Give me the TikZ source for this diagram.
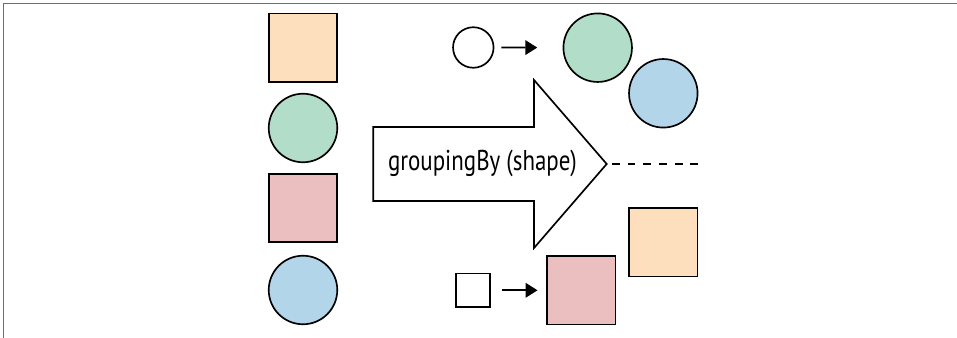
\documentclass[tikz,border=0pt]{standalone}
\usepackage{fontspec}
\newfontfamily\condfont[FakeStretch=0.8]{PT Sans}
\usetikzlibrary{arrows.meta}

\definecolor{peach}{RGB}{253,223,190}
\definecolor{mint}{RGB}{178,221,200}
\definecolor{rose}{RGB}{235,190,192}
\definecolor{sky}{RGB}{179,213,234}
\definecolor{framegray}{RGB}{110,110,110}

\tikzset{every picture/.style={line width=1pt}}

\begin{document}
\begin{tikzpicture}[x=0.75pt,y=0.75pt,yscale=-1,
  sq/.style={draw,line width=1.25pt,minimum size=51.4pt,inner sep=0pt},
  rnd/.style={circle,draw,line width=1.25pt,minimum size=51.4pt,inner sep=0pt},
  smallsq/.style={draw,line width=1.25pt,minimum size=25.4pt,inner sep=0pt},
  smallrnd/.style={circle,draw,line width=1.25pt,minimum size=30.4pt,inner sep=0pt},
  pointer/.style={-{Triangle[length=9pt,width=11pt]},line width=1.25pt}]

\useasboundingbox (0,0) rectangle (957,338);
\draw [framegray,line width=1pt] (3.5,338) -- (3.5,3.5) -- (957,3.5) ;

% input stream
\node [sq,fill=peach] (inpeach) at (303,47.7) {};
\node [rnd,fill=mint] (inmint) at (303,128) {};
\node [sq,fill=rose] (inrose) at (303,208) {};
\node [rnd,fill=sky] (insky) at (303,290) {};

% collector arrow
\draw [line width=1.25pt] (373.3,127) -- (534,127) -- (534,80) -- (606.7,164) -- (534,248) -- (534,201) -- (373.3,201) -- cycle ;
\node [font=\condfont\fontsize{21.5}{25}\selectfont] (grouplabel) at (482.5,163) {groupingBy (shape)};

\coordinate (tip) at (606.7,164);
\coordinate (dashend) at (698,164);
\draw [dash pattern=on 5.9pt off 5.9pt,line width=1.1pt,shorten <=3.8pt] (tip) -- (dashend) ;

% circle group
\node [smallrnd] (keyrnd) at (473.3,47.5) {};
\node [rnd,fill=mint] (outmint) at (597.7,47.7) {};
\node [rnd,fill=sky] (outsky) at (663.3,93.3) {};
\draw [pointer,shorten <=5.3pt,shorten >=19pt] (keyrnd) -- (outmint) ;

% square group
\node [sq,fill=peach] (outpeach) at (663.3,242.3) {};
\node [smallsq] (keysq) at (473,290.3) {};
\node [sq,fill=rose] (outrose) at (581.3,290.3) {};
\draw [pointer,shorten <=8.2pt,shorten >=6.5pt] (keysq) -- (outrose) ;

\end{tikzpicture}
\end{document}
